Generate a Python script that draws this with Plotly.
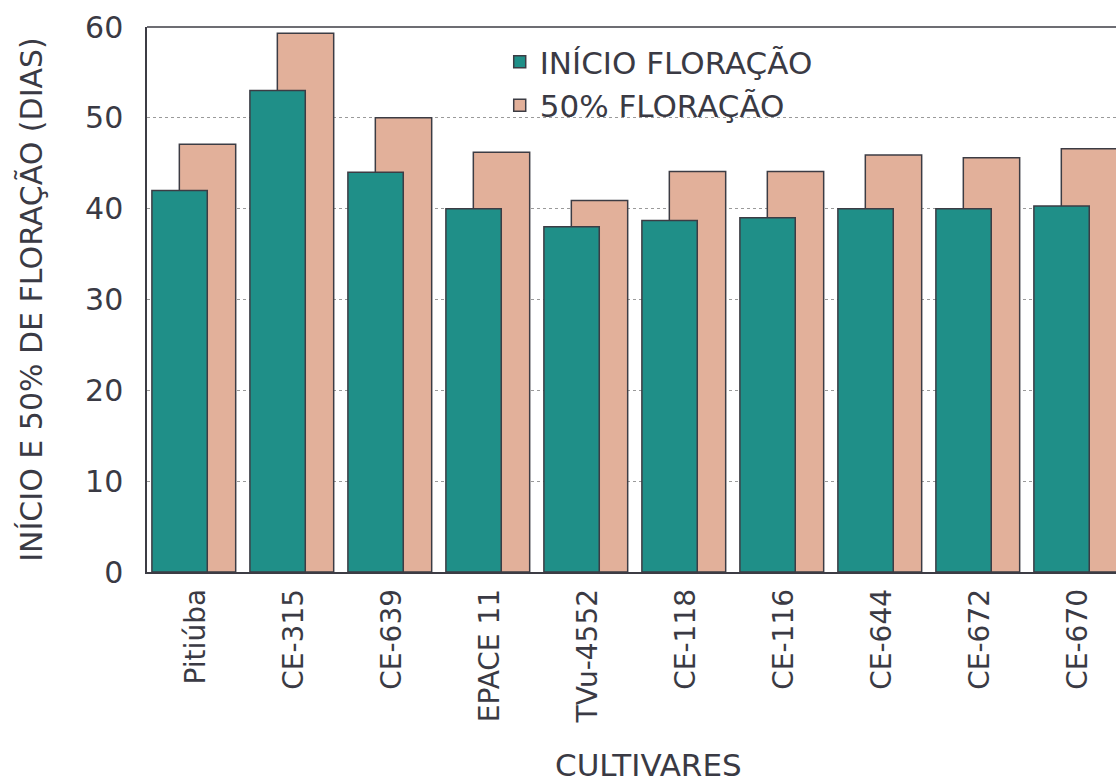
import plotly.graph_objects as go

cultivares = ["Pitiúba", "CE-315", "CE-639", "EPACE 11", "TVu-4552",
              "CE-118", "CE-116", "CE-644", "CE-672", "CE-670"]
inicio_floracao = [42.0, 53.0, 44.0, 40.0, 38.0, 38.7, 39.0, 40.0, 40.0, 40.3]
floracao_50 = [47.1, 59.3, 50.0, 46.2, 40.9, 44.1, 44.1, 45.9, 45.6, 46.6]

TEAL = "#1f8f88"
SAND = "#e2b09a"
EDGE = "#3c3c44"
INK = "#3a3a44"
FONT = "DejaVu Sans"

fig = go.Figure()

# 50% bars sit behind and to the right of the onset bars
fig.add_trace(go.Bar(
    x=cultivares, y=floracao_50, name="50% FLORAÇÃO",
    offset=-0.17, width=0.575,
    marker=dict(color=SAND, line=dict(color=EDGE, width=1.5)),
))
fig.add_trace(go.Bar(
    x=cultivares, y=inicio_floracao, name="INÍCIO FLORAÇÃO",
    offset=-0.45, width=0.565,
    marker=dict(color=TEAL, line=dict(color=EDGE, width=1.5)),
))

fig.update_layout(
    width=1116, height=783,
    margin=dict(l=147, r=0, t=27, b=211),
    paper_bgcolor="white", plot_bgcolor="white",
    barmode="overlay",
    font=dict(family=FONT, size=28, color=INK),
    showlegend=True,
    legend=dict(
        traceorder="reversed",
        x=0.364, y=0.985, xanchor="left", yanchor="top",
        bgcolor="rgba(0,0,0,0)",
        font=dict(family=FONT, size=31, color=INK),
        itemwidth=30, tracegroupgap=0,
    ),
    xaxis=dict(
        type="category",
        range=[-0.5, 9.388],
        tickangle=-90,
        showline=True, linecolor=EDGE, linewidth=1.5,
        showgrid=False, ticks="",
        ticklabelstandoff=4,
        tickfont=dict(family=FONT, size=28, color=INK),
    ),
    yaxis=dict(
        range=[0, 60],
        tickvals=[0, 10, 20, 30, 40, 50, 60],
        showline=True, linecolor=EDGE, linewidth=1.5,
        showgrid=True, gridcolor="#9a9a9a", griddash="dot", gridwidth=1,
        ticks="", ticklabelstandoff=16,
        tickfont=dict(family=FONT, size=30, color=INK),
        title=dict(text="INÍCIO E 50% DE FLORAÇÃO (DIAS)",
                   font=dict(family=FONT, size=30, color=INK), standoff=34),
        zeroline=False,
    ),
    shapes=[dict(type="line", xref="paper", yref="paper",
                 x0=0, x1=1, y0=1, y1=1,
                 line=dict(color=EDGE, width=1.5))],
    annotations=[dict(text="CULTIVARES", xref="paper", yref="paper",
                      x=(648 - 147) / 969, y=-(765 - 572) / 545,
                      xanchor="center", yanchor="middle", showarrow=False,
                      font=dict(family=FONT, size=31, color=INK))],
)

fig.write_html("out.html")
